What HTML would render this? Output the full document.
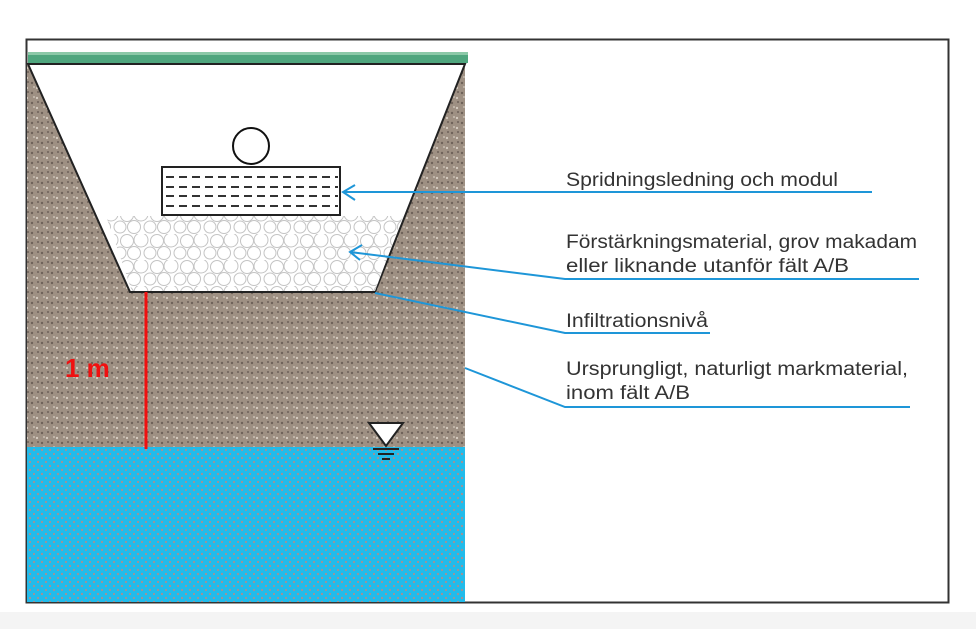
<!DOCTYPE html>
<html><head><meta charset="utf-8"><style>
html,body{margin:0;padding:0;background:#fff;}
svg{display:block}
text{font-family:"Liberation Sans",sans-serif;}
</style></head><body>
<svg width="976" height="629" viewBox="0 0 976 629" xmlns="http://www.w3.org/2000/svg">
<defs>
<pattern id="wdots" width="8" height="8" patternUnits="userSpaceOnUse">
<circle cx="2" cy="2" r="1.1" fill="#a89090"/>
<circle cx="6" cy="6" r="1.1" fill="#a89090"/>
</pattern>
<pattern id="sdots" width="10" height="10" patternUnits="userSpaceOnUse">
<circle cx="2" cy="3" r="1.2" fill="#6e6259"/>
<circle cx="7" cy="8" r="1.1" fill="#d8cfc4"/>
<circle cx="8" cy="2" r="0.9" fill="#5e534b"/>
<circle cx="4" cy="7" r="1" fill="#c9beb2"/>
</pattern>
<pattern id="stones" width="30" height="26" patternUnits="userSpaceOnUse">
<rect width="30" height="26" fill="#fff"/>
<g fill="none" stroke="#c4c4c4" stroke-width="1">
<circle cx="7" cy="7" r="6.5"/><circle cx="21" cy="6" r="7"/>
<circle cx="14" cy="19" r="6.5"/><circle cx="0" cy="19" r="6"/><circle cx="30" cy="19" r="6"/>
</g>
</pattern>
</defs>
<rect x="0" y="612" width="976" height="17" fill="#f4f4f4"/>
<rect x="26.5" y="39.5" width="922" height="563" fill="none" stroke="#333" stroke-width="2"/>
<!-- grass -->
<rect x="28" y="54" width="440" height="9" fill="#4fa67e"/>
<rect x="28" y="52" width="440" height="3" fill="#8cc9a8"/>
<!-- soil -->
<rect x="27" y="63" width="438" height="385" fill="#9e9083"/>
<rect x="27" y="63" width="438" height="385" fill="url(#sdots)"/>
<!-- trench -->
<polygon points="28,64 465,64 375,292 130,292" fill="#fff" stroke="#222" stroke-width="2"/>
<polygon points="106,216 403,216 375,291 132,291" fill="url(#stones)"/>
<line x1="130" y1="292" x2="375" y2="292" stroke="#222" stroke-width="2"/>
<!-- water -->
<rect x="27" y="447" width="438" height="155" fill="#22bbea"/>
<rect x="27" y="447" width="438" height="155" fill="url(#wdots)"/>
<!-- pipe and module -->
<circle cx="251" cy="146" r="18" fill="#fff" stroke="#111" stroke-width="2"/>
<rect x="162" y="167" width="178" height="48" fill="#fff" stroke="#222" stroke-width="2"/>
<g stroke="#333" stroke-width="2" stroke-dasharray="8,5">
<line x1="166" y1="177" x2="338" y2="177"/><line x1="166" y1="187" x2="338" y2="187"/>
<line x1="166" y1="196" x2="338" y2="196"/><line x1="166" y1="206" x2="338" y2="206"/>
</g>
<line x1="146" y1="292" x2="146" y2="449" stroke="#f01010" stroke-width="3"/>
<text x="65" y="377" font-size="26" font-weight="bold" fill="#f01010">1 m</text>
<polygon points="369,423 403,423 386,446" fill="#fff" stroke="#222" stroke-width="2"/>
<line x1="373" y1="449" x2="399" y2="449" stroke="#222" stroke-width="2"/>
<line x1="378" y1="454" x2="394" y2="454" stroke="#222" stroke-width="2"/>
<line x1="382" y1="459" x2="390" y2="459" stroke="#222" stroke-width="2"/>
<g stroke="#1e96d8" stroke-width="2" fill="none">
<polyline points="343,192 872,192"/>
<polyline points="355,185 343,192 355,200"/>
<polyline points="350,252 565,279 919,279"/>
<polyline points="362,245 350,252 360,260"/>
<polyline points="375,293 565,333 710,333"/>
<polyline points="465,368 565,407 910,407"/>
</g>
<g font-size="19" fill="#333">
<text x="566" y="186" textLength="272" lengthAdjust="spacingAndGlyphs">Spridningsledning och modul</text>
<text x="566" y="248" textLength="351" lengthAdjust="spacingAndGlyphs">Förstärkningsmaterial, grov makadam</text>
<text x="566" y="272" textLength="283" lengthAdjust="spacingAndGlyphs">eller liknande utanför fält A/B</text>
<text x="566" y="327" textLength="142" lengthAdjust="spacingAndGlyphs">Infiltrationsnivå</text>
<text x="566" y="375" textLength="342" lengthAdjust="spacingAndGlyphs">Ursprungligt, naturligt markmaterial,</text>
<text x="566" y="399" textLength="124" lengthAdjust="spacingAndGlyphs">inom fält A/B</text>
</g>
</svg>
</body></html>
